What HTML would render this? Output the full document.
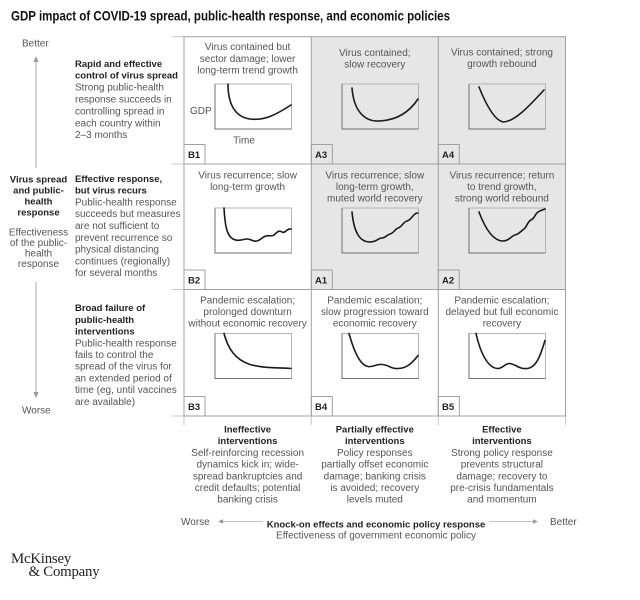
<!DOCTYPE html>
<html><head><meta charset="utf-8"><style>
html,body{margin:0;padding:0;background:#fff;}
svg{display:block;}
text{font-family:"Liberation Sans",Arial,sans-serif;}
.t{font-size:10px;fill:#555;}
.c{font-size:10px;fill:#555;text-anchor:middle;}
.b{font-size:9.5px;font-weight:bold;fill:#222;}
.bc{font-size:9.5px;font-weight:bold;fill:#222;text-anchor:middle;}
.lab{font-size:9.5px;font-weight:bold;fill:#222;}
.cv{fill:none;stroke:#1a1a1a;stroke-width:1.6;stroke-linecap:round;stroke-linejoin:round;}
text.logo{font-family:"Liberation Serif","Times New Roman",serif;font-size:14.8px;fill:#222;letter-spacing:-0.2px;}
</style></head><body>
<svg width="640" height="600" viewBox="0 0 640 600" xmlns="http://www.w3.org/2000/svg">
<rect width="640" height="600" fill="#fff"/>
<!-- title -->
<text x="11" y="20.5" font-size="13.5" font-weight="bold" fill="#111" textLength="439" lengthAdjust="spacingAndGlyphs">GDP impact of COVID-19 spread, public-health response, and economic policies</text>

<!-- shaded cells -->
<rect x="311.3" y="36.7" width="127" height="252.8" fill="#e6e6e6"/>
<rect x="438.3" y="36.7" width="127.2" height="252.8" fill="#e6e6e6"/>

<!-- grid extensions -->
<g stroke="#c8c8c8" stroke-width="1">
<line x1="172" y1="36.7" x2="184" y2="36.7"/>
<line x1="172" y1="164" x2="184" y2="164"/>
<line x1="172" y1="289.5" x2="184" y2="289.5"/>
<line x1="172" y1="416" x2="184" y2="416"/>
<line x1="184" y1="416" x2="184" y2="425"/>
<line x1="311.3" y1="416" x2="311.3" y2="425"/>
<line x1="438.3" y1="416" x2="438.3" y2="425"/>
<line x1="565.5" y1="416" x2="565.5" y2="425"/>
</g>
<!-- grid -->
<g stroke="#a0a0a0" stroke-width="1" fill="none">
<rect x="184" y="36.7" width="381.5" height="379.3"/>
<line x1="311.3" y1="36.7" x2="311.3" y2="416"/>
<line x1="438.3" y1="36.7" x2="438.3" y2="416"/>
<line x1="184" y1="164" x2="565.5" y2="164"/>
<line x1="184" y1="289.5" x2="565.5" y2="289.5"/>
<!-- label boxes -->
<rect x="184" y="144.5" width="21" height="19.5"/>
<rect x="311.3" y="144.5" width="21" height="19.5"/>
<rect x="438.3" y="144.5" width="21" height="19.5"/>
<rect x="184" y="270" width="21" height="19.5"/>
<rect x="311.3" y="270" width="21" height="19.5"/>
<rect x="438.3" y="270" width="21" height="19.5"/>
<rect x="184" y="396.5" width="21" height="19.5"/>
<rect x="311.3" y="396.5" width="21" height="19.5"/>
<rect x="438.3" y="396.5" width="21" height="19.5"/>
</g>
<text class="lab" x="188" y="158">B1</text>
<text class="lab" x="315" y="158">A3</text>
<text class="lab" x="442" y="158">A4</text>
<text class="lab" x="188" y="283.5">B2</text>
<text class="lab" x="315" y="283.5">A1</text>
<text class="lab" x="442" y="283.5">A2</text>
<text class="lab" x="188" y="410">B3</text>
<text class="lab" x="315" y="410">B4</text>
<text class="lab" x="442" y="410">B5</text>

<!-- frames -->
<defs>
<g id="fr">
<rect x="0" y="0" width="76.5" height="45" fill="none" stroke="#b4b4b4" stroke-width="1"/>
<polyline points="0,0 0,45 76.5,45" fill="none" stroke="#707070" stroke-width="1"/>
</g>
</defs>
<!-- row 1 -->
<g transform="translate(215,84)"><use href="#fr"/><path class="cv" d="M13,0 C13,20 20,33 35,35 C50,37 62,30 76,21"/></g>
<g transform="translate(342,84)"><use href="#fr"/><path class="cv" d="M10,4 C12,30 25,37 35,37 C55,37 68,27 76,15"/></g>
<g transform="translate(469,84)"><use href="#fr"/><path class="cv" d="M10,3 C16,18 25,36 34,38 C46,38 62,20 75,6"/></g>
<!-- row 2 -->
<g transform="translate(215,208)"><use href="#fr"/><path class="cv" d="M9,0 C10,18 12,28 18,31 C24,34 28,31 32,31 C36,31 38,34 42,33 C46,32 47,29 51,28 C55,27 56,29 59,27 C62,24 64,22 67,24 C70,26 72,20 76,21"/></g>
<g transform="translate(342,208)"><use href="#fr"/><path class="cv" d="M10,4 C12,25 18,34 28,34 C35,34 36,30 40,30 C44,30 44,27 48,26 C52,25 53,21 56,20 C60,19 61,14 65,13 C69,12 70,8 73,6 C74,5 75,5 76,5"/></g>
<g transform="translate(469,208)"><use href="#fr"/><path class="cv" d="M10,4 C16,20 24,33 34,33 C40,33 42,28 46,27 C50,26 52,23 55,21 C58,19 58,14 62,12 C66,10 66,6 69,4 C72,2 74,2 76,1"/></g>
<!-- row 3 -->
<g transform="translate(215,333.5)"><use href="#fr"/><path class="cv" d="M9,0 C13,15 20,26 35,31 C50,35 62,34 76,35"/></g>
<g transform="translate(342,333.5)"><use href="#fr"/><path class="cv" d="M7,0 C12,18 18,32 26,33 C32,34 35,30 40,31 C46,31 50,36 56,35 C64,35 70,30 76,22"/></g>
<g transform="translate(469,333.5)"><use href="#fr"/><path class="cv" d="M7,0 C12,22 20,35 29,35 C34,35 36,30 40,30 C46,30 50,36 58,35 C68,34 72,20 76,7"/></g>

<text class="t" x="190" y="114.2">GDP</text>
<text class="c" x="244" y="143.5">Time</text>

<!-- cell titles row1 -->
<text class="c" x="247.6" y="50">Virus contained but</text>
<text class="c" x="247.6" y="61.8">sector damage; lower</text>
<text class="c" x="247.6" y="73.5">long-term trend growth</text>
<text class="c" x="374.8" y="56">Virus contained;</text>
<text class="c" x="374.8" y="67.5">slow recovery</text>
<text class="c" x="501.9" y="55.5">Virus contained; strong</text>
<text class="c" x="501.9" y="67">growth rebound</text>
<!-- row2 -->
<text class="c" x="247.6" y="178.5">Virus recurrence; slow</text>
<text class="c" x="247.6" y="190">long-term growth</text>
<text class="c" x="374.8" y="178.5">Virus recurrence; slow</text>
<text class="c" x="374.8" y="190">long-term growth,</text>
<text class="c" x="374.8" y="201.5">muted world recovery</text>
<text class="c" x="501.9" y="178.5">Virus recurrence; return</text>
<text class="c" x="501.9" y="190">to trend growth,</text>
<text class="c" x="501.9" y="201.5">strong world rebound</text>
<!-- row3 -->
<text class="c" x="247.6" y="303.5">Pandemic escalation;</text>
<text class="c" x="247.6" y="315">prolonged downturn</text>
<text class="c" x="247.6" y="326.5">without economic recovery</text>
<text class="c" x="374.8" y="303.5">Pandemic escalation;</text>
<text class="c" x="374.8" y="315">slow progression toward</text>
<text class="c" x="374.8" y="326.5">economic recovery</text>
<text class="c" x="501.9" y="303.5">Pandemic escalation;</text>
<text class="c" x="501.9" y="315">delayed but full economic</text>
<text class="c" x="501.9" y="326.5">recovery</text>

<!-- left vertical axis -->
<text class="t" x="22" y="46.5" fill="#444">Better</text>
<text class="t" x="22" y="413.5" fill="#444">Worse</text>
<g stroke="#aaa" stroke-width="1">
<line x1="36" y1="61" x2="36" y2="168"/>
<line x1="36" y1="282" x2="36" y2="393"/>
</g>
<polygon points="36,56 33.5,62 38.5,62" fill="#999"/>
<polygon points="36,398 33.5,392 38.5,392" fill="#999"/>
<text class="bc" x="38.5" y="182.5">Virus spread</text>
<text class="bc" x="38.5" y="193.5">and public-</text>
<text class="bc" x="38.5" y="204.5">health</text>
<text class="bc" x="38.5" y="215.5">response</text>
<text class="c" x="38.5" y="235.5">Effectiveness</text>
<text class="c" x="38.5" y="246">of the public-</text>
<text class="c" x="38.5" y="256.5">health</text>
<text class="c" x="38.5" y="267">response</text>

<!-- row descriptions -->
<text class="b" x="75" y="66.8">Rapid and effective</text>
<text class="b" x="75" y="78.7">control of virus spread</text>
<text class="t" x="75" y="90.6">Strong public-health</text>
<text class="t" x="75" y="102.5">response succeeds in</text>
<text class="t" x="75" y="114.4">controlling spread in</text>
<text class="t" x="75" y="126.3">each country within</text>
<text class="t" x="75" y="138.2">2–3 months</text>

<text class="b" x="75" y="181.8">Effective response,</text>
<text class="b" x="75" y="193.6">but virus recurs</text>
<text class="t" x="75" y="205.4">Public-health response</text>
<text class="t" x="75" y="217.2">succeeds but measures</text>
<text class="t" x="75" y="229">are not sufficient to</text>
<text class="t" x="75" y="240.8">prevent recurrence so</text>
<text class="t" x="75" y="252.6">physical distancing</text>
<text class="t" x="75" y="264.4">continues (regionally)</text>
<text class="t" x="75" y="276.2">for several months</text>

<text class="b" x="75" y="311.2">Broad failure of</text>
<text class="b" x="75" y="322.9">public-health</text>
<text class="b" x="75" y="334.6">interventions</text>
<text class="t" x="75" y="346.3">Public-health response</text>
<text class="t" x="75" y="358">fails to control the</text>
<text class="t" x="75" y="369.7">spread of the virus for</text>
<text class="t" x="75" y="381.4">an extended period of</text>
<text class="t" x="75" y="393.1">time (eg, until vaccines</text>
<text class="t" x="75" y="404.8">are available)</text>

<!-- bottom column descriptions -->
<text class="bc" x="247.6" y="432.5">Ineffective</text>
<text class="bc" x="247.6" y="444.2">interventions</text>
<text class="c" x="247.6" y="455.9">Self-reinforcing recession</text>
<text class="c" x="247.6" y="467.6">dynamics kick in; wide-</text>
<text class="c" x="247.6" y="479.3">spread bankruptcies and</text>
<text class="c" x="247.6" y="491">credit defaults; potential</text>
<text class="c" x="247.6" y="502.7">banking crisis</text>

<text class="bc" x="374.8" y="432.5">Partially effective</text>
<text class="bc" x="374.8" y="444.2">interventions</text>
<text class="c" x="374.8" y="455.9">Policy responses</text>
<text class="c" x="374.8" y="467.6">partially offset economic</text>
<text class="c" x="374.8" y="479.3">damage; banking crisis</text>
<text class="c" x="374.8" y="491">is avoided; recovery</text>
<text class="c" x="374.8" y="502.7">levels muted</text>

<text class="bc" x="501.9" y="432.5">Effective</text>
<text class="bc" x="501.9" y="444.2">interventions</text>
<text class="c" x="501.9" y="455.9">Strong policy response</text>
<text class="c" x="501.9" y="467.6">prevents structural</text>
<text class="c" x="501.9" y="479.3">damage; recovery to</text>
<text class="c" x="501.9" y="491">pre-crisis fundamentals</text>
<text class="c" x="501.9" y="502.7">and momentum</text>

<!-- bottom axis -->
<text class="t" x="181" y="525" fill="#444">Worse</text>
<text class="t" x="550" y="525" fill="#444">Better</text>
<g stroke="#c0c0c0" stroke-width="1">
<line x1="222" y1="521.5" x2="263" y2="521.5"/>
<line x1="489" y1="521.5" x2="533" y2="521.5"/>
</g>
<polygon points="218,521.5 223,519.3 223,523.7" fill="#999"/>
<polygon points="538,521.5 533,519.3 533,523.7" fill="#999"/>
<text class="bc" x="376" y="527.5">Knock-on effects and economic policy response</text>
<text class="c" x="376" y="538.5">Effectiveness of government economic policy</text>

<!-- logo -->
<text class="logo" x="11" y="563" style="font-family:'Liberation Serif','Times New Roman',serif;">McKinsey</text>
<text class="logo" x="28.5" y="576" style="font-family:'Liberation Serif','Times New Roman',serif;">&amp; Company</text>
</svg>
</body></html>
